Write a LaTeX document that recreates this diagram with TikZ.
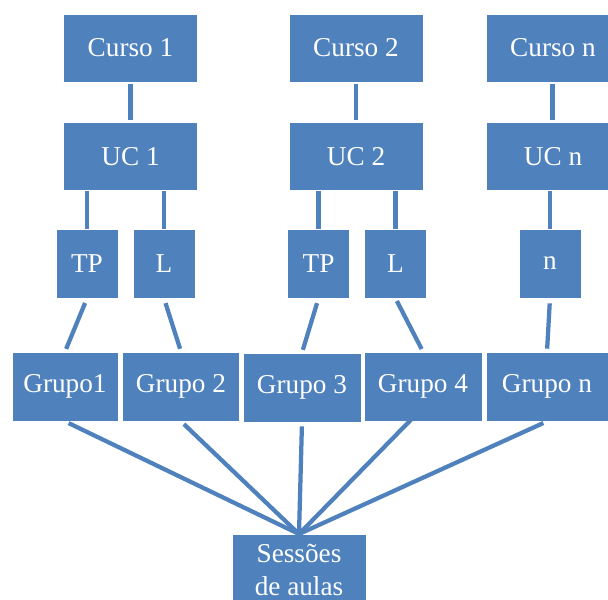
\documentclass[tikz,border=0pt]{standalone}
\usepackage{fontspec}
\setmainfont{Liberation Serif}
\usetikzlibrary{calc,positioning}

\definecolor{caixa}{HTML}{4F81BD}

\tikzset{
    caixa/.style={fill=caixa, draw=white, thin, text=white, inner sep=0pt,
        font=\fontsize{15.5}{19}\selectfont},
    curso/.style={caixa, minimum width=26.8mm, minimum height=13.6mm},
    tipo/.style={caixa, minimum width=12.4mm, minimum height=13.8mm},
    grupo/.style={caixa, minimum height=13.8mm},
    ligacao/.style={draw=caixa, line width=0.85mm}
}

\begin{document}
\begin{tikzpicture}[x=0.2mm, y=-0.2mm]
    \useasboundingbox (0,0) rectangle (608,599);
    \clip (0,0) rectangle (608,599);
    %cursos
    \node[curso] (curso1) at (130.5,48) {Curso 1};
    \node[curso] (curso2) at (356,48) {Curso 2};
    \node[curso] (cursoN) at (553,48) {Curso n};
    %unidades curriculares
    \node[curso] (uc1) at (130.5,156.5) {UC 1};
    \node[curso] (uc2) at (356,156.5) {UC 2};
    \node[curso] (ucN) at (553,156.5) {UC n};
    %tipos de aula
    \node[tipo] (tp1) at (87,263.5) {TP};
    \node[tipo] (l1) at (164,263.5) {L};
    \node[tipo] (tp2) at (318.5,263.5) {TP};
    \node[tipo] (l2) at (395.5,263.5) {L};
    \node[tipo] (tipoN) at (550,263.5) {n};
    %grupos
    \node[grupo, minimum width=21.2mm] (g1) at (65,386.5) {Grupo1};
    \node[grupo, minimum width=23.4mm] (g2) at (181,386.5) {Grupo 2};
    \node[grupo, minimum width=23.6mm] (g3) at (302,387.5) {Grupo 3};
    \node[grupo, minimum width=23.6mm] (g4) at (423,386.5) {Grupo 4};
    \node[grupo, minimum width=24.4mm] (gN) at (547,386.5) {Grupo n};
    %sessoes
    \node[caixa, anchor=north, minimum width=26.8mm, inner ysep=1.9mm,
        align=center] (sessoes) at (299,534) {Sessões\\de aulas};
    %curso -> uc
    \draw[ligacao, shorten <=0.4mm, shorten >=0.4mm] (curso1) -- (uc1);
    \draw[ligacao, shorten <=0.4mm, shorten >=0.4mm] (curso2) -- (uc2);
    \draw[ligacao, shorten <=0.4mm, shorten >=0.4mm] (cursoN.south -| 552.5,0) -- (ucN.north -| 552.5,0);
    %uc -> tipo
    \draw[ligacao] (tp1) -- (tp1 |- uc1.south);
    \draw[ligacao] (l1) -- (l1 |- uc1.south);
    \draw[ligacao] (tp2) -- (tp2 |- uc2.south);
    \draw[ligacao] (l2) -- (l2 |- uc2.south);
    \draw[ligacao] (tipoN) -- (tipoN |- ucN.south);
    %tipo -> grupo
    \draw[ligacao, shorten <=1mm, shorten >=0.6mm] (tp1.south) -- (g1.north);
    \draw[ligacao, shorten <=1mm, shorten >=0.6mm] (l1.south) -- (g2.north);
    \draw[ligacao, shorten <=1mm, shorten >=0.6mm] (tp2.south) -- (g3.north);
    \draw[ligacao, shorten <=0.6mm, shorten >=0.6mm] (l2.south) -- (g4.north);
    \draw[ligacao, shorten <=1mm, shorten >=0.6mm] (tipoN.south) -- (gN.north);
    %grupo -> sessoes
    \draw[ligacao, shorten <=0.8mm] (g1.south) -- (sessoes.north);
    \draw[ligacao, shorten <=0.8mm] (g2.south) -- (sessoes.north);
    \draw[ligacao, shorten <=0.8mm] (g3.south) -- (sessoes.north);
    \draw[ligacao] ($(g4.south)+(5,-19)$) -- (sessoes.north);
    \draw[ligacao, shorten <=0.8mm] (gN.south) -- (sessoes.north);
\end{tikzpicture}
\end{document}
